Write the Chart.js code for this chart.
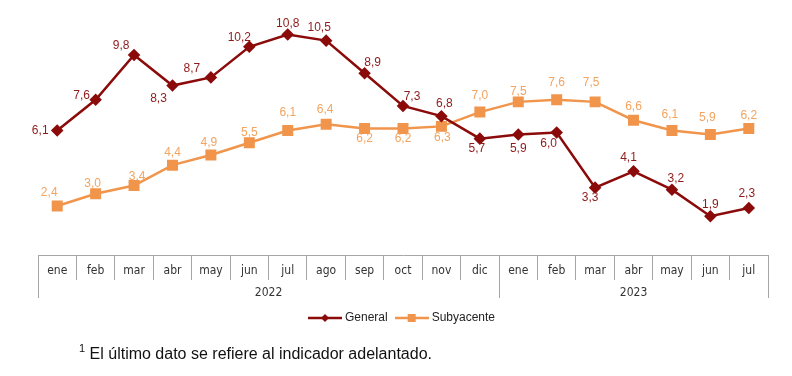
<!DOCTYPE html>
<html>
<head>
<meta charset="utf-8">
<script src="https://cdn.jsdelivr.net/npm/chart.js@4"></script>
<style>
  html, body { margin:0; padding:0; background:#fff; }
  #wrap { position:relative; width:792px; height:376px; }
  #nota { position:absolute; left:79px; top:340px; font:16px "Liberation Sans", Arial, sans-serif; color:#111; white-space:nowrap; line-height:18px; }
  #nota sup { font-size:11px; position:relative; top:-1px; }
</style>
</head>
<body>
<div id="wrap">
  <canvas id="c" width="792" height="376"></canvas>
  <div id="nota"><sup>1</sup> El último dato se refiere al indicador adelantado.</div>
</div>
<script>
// datos
const meses = ['ene','feb','mar','abr','may','jun','jul','ago','sep','oct','nov','dic',
               'ene','feb','mar','abr','may','jun','jul'];
const anios = ['2022','2023'];
const general    = [6.1, 7.6, 9.8, 8.3, 8.7, 10.2, 10.8, 10.5, 8.9, 7.3, 6.8, 5.7, 5.9, 6.0, 3.3, 4.1, 3.2, 1.9, 2.3];
const subyacente = [2.4, 3.0, 3.4, 4.4, 4.9, 5.5, 6.1, 6.4, 6.2, 6.2, 6.3, 7.0, 7.5, 7.6, 7.5, 6.6, 6.1, 5.9, 6.2];

// desplazamiento de cada etiqueta respecto a su punto (px)
const offGeneral = [[-17,0],[-14,-4],[-13,-9],[-14,13],[-19,-9],[-10,-9],[0,-11],[-7,-13],[8,-11],[9,-9],
                    [3,-12],[-3,10],[0,14],[-8,11],[-5,10],[-5,-14],[4,-11],[0,-12],[-2,-14]];
const offSub     = [[-8,-13],[-3,-10],[3,-9],[0,-12],[-2,-12],[0,-10],[0,-18],[-1,-15],[0,10],[0,10],
                    [1,11],[0,-16],[0,-10],[0,-17],[-4,-19],[0,-14],[-2,-16],[-3,-17],[0,-13]];

const ROJO = '#8B0A0A', NARANJA = '#F0954B';
const ROJO_TXT = '#8E1B1B', NARANJA_TXT = '#F2A461';
const FUENTE = '"Liberation Sans", Arial, sans-serif';
const ESTRECHA = '"Liberation Sans Narrow", "Arial Narrow", "DejaVu Sans Condensed", sans-serif';

const fmt = v => v.toFixed(1).replace('.', ',');

function icono(color, forma) {
  const c = document.createElement('canvas');
  c.width = 34; c.height = 10;
  const g = c.getContext('2d');
  g.strokeStyle = color; g.lineWidth = 2.5;
  g.beginPath(); g.moveTo(0,5); g.lineTo(34,5); g.stroke();
  g.fillStyle = color;
  if (forma === 'rombo') {
    g.beginPath(); g.moveTo(17,1); g.lineTo(21,5); g.lineTo(17,9); g.lineTo(13,5); g.closePath(); g.fill();
  } else {
    g.fillRect(13,1,8,8);
  }
  return c;
}
const iconos = [icono(ROJO,'rombo'), icono(NARANJA,'cuadro')];
const etiqCfg = [{ color:ROJO_TXT, off:offGeneral }, { color:NARANJA_TXT, off:offSub }];

const etiquetas = {
  id:'etiquetas',
  afterDatasetsDraw(chart) {
    const ctx = chart.ctx;
    ctx.save();
    ctx.font = '12px ' + FUENTE;
    ctx.textAlign = 'center';
    ctx.textBaseline = 'middle';
    chart.data.datasets.forEach((ds, di) => {
      const cfg = etiqCfg[di];
      ctx.fillStyle = cfg.color;
      chart.getDatasetMeta(di).data.forEach((pt, i) => {
        const [dx, dy] = cfg.off[i];
        ctx.fillText(fmt(ds.data[i]), pt.x + dx, pt.y + dy);
      });
    });
    ctx.restore();
  }
};

// posiciones de los años sobre el eje (centro de cada tramo) y separadores
const cortes = [-0.5, 11.5, 18.5];
const centrosAnio = [5.5, 15];

new Chart(document.getElementById('c'), {
  type:'line',
  data:{
    labels: meses,
    datasets:[
      { label:'General', data:general, borderColor:ROJO, backgroundColor:ROJO, borderWidth:2.5,
        pointStyle:'rectRot', pointRadius:4.5, pointHoverRadius:4.5, tension:0 },
      { label:'Subyacente', data:subyacente, borderColor:NARANJA, backgroundColor:NARANJA, borderWidth:2.5,
        pointStyle:'rect', pointRadius:6, pointHoverRadius:6, tension:0 },
    ]
  },
  options:{
    responsive:false, animation:false,
    layout:{ padding:{ top:10, left:38, right:24, bottom:42 } },
    plugins:{
      tooltip:{ enabled:false },
      legend:{
        position:'bottom',
        labels:{
          usePointStyle:true, pointStyleWidth:28, padding:10,
          font:{ family:FUENTE, size:12 }, color:'#222',
          generateLabels: chart => chart.data.datasets.map((ds, i) => ({
            text: ds.label, pointStyle: iconos[i], fillStyle: ds.borderColor,
            strokeStyle: ds.borderColor, lineWidth:0, hidden:false, datasetIndex:i, fontColor:'#222'
          }))
        }
      }
    },
    scales:{
      y:{ display:false, min:0, max:12 },
      x:{
        type:'category', offset:true, weight:0,
        grid:{ offset:true, drawOnChartArea:false, drawTicks:true, tickLength:25, color:'#A6A6A6' },
        border:{ display:true, color:'#A6A6A6' },
        ticks:{ autoSkip:false, maxRotation:0, padding:-16, color:'#333', font:{ family:ESTRECHA, size:12 } },
        afterFit: ax => { ax.height = 25; }
      },
      x2:{
        type:'linear', position:'bottom', weight:1, min:-0.5, max:18.5,
        afterBuildTicks: ax => { ax.ticks = cortes.concat(centrosAnio).sort((a,b)=>a-b).map(v => ({ value:v })); },
        afterFit: ax => { ax.height = 22; },
        grid:{ drawOnChartArea:false, drawTicks:true, tickLength:18,
               color: c => (c.tick && cortes.includes(c.tick.value)) ? '#A6A6A6' : 'rgba(0,0,0,0)' },
        border:{ display:false },
        ticks:{ autoSkip:false, maxRotation:0, padding:-12, color:'#333', font:{ family:ESTRECHA, size:12 },
                callback: v => { const k = centrosAnio.indexOf(v); return k >= 0 ? anios[k] : ''; } }
      }
    }
  },
  plugins:[etiquetas]
});
</script>
</body>
</html>
